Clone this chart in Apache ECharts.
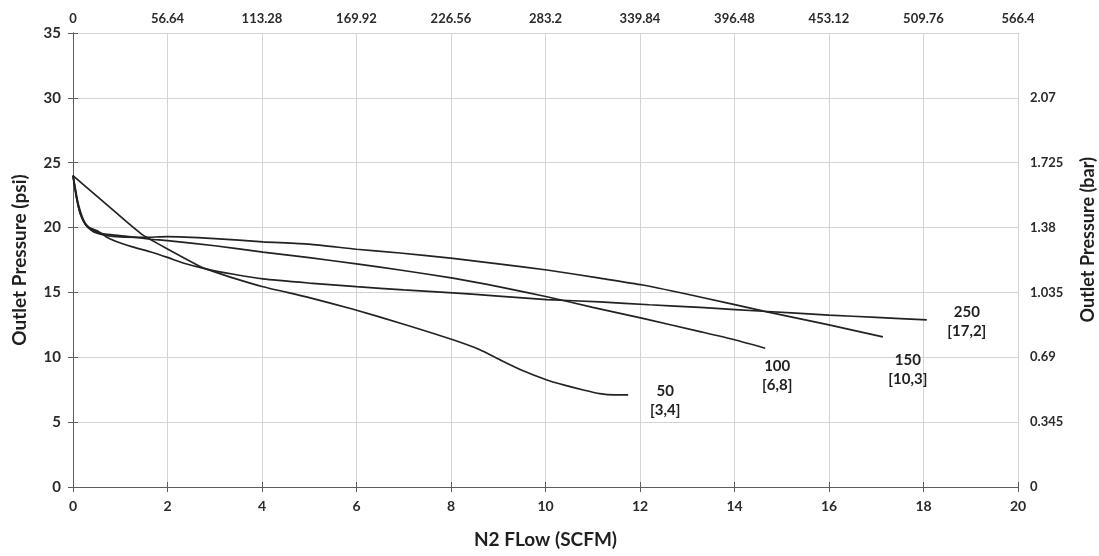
<!DOCTYPE html>
<html>
<head>
<meta charset="utf-8">
<title>N2 Flow vs Outlet Pressure</title>
<script src="https://cdn.jsdelivr.net/npm/echarts@6/dist/echarts.min.js"></script>
<style>
  html, body { margin: 0; padding: 0; background: #fff; }
  #chart { width: 1099px; height: 556px; }
</style>
</head>
<body>
<div id="chart"></div>
<script>
// Flow (SCFM) and outlet pressure (psi) for each regulator curve
const flow50 = [0, 0.35, 0.72, 1.1, 1.45, 1.63, 2.0, 2.35, 2.69, 2.83, 3.4, 4.02, 5.0, 5.93, 7.0, 8.04, 8.6, 9.04, 9.5, 10.03, 10.4, 10.8, 11.15, 11.45, 11.75];
const psi50  = [24, 22.9, 21.75, 20.55, 19.5, 19.1, 18.35, 17.65, 17.0, 16.8, 16.1, 15.44, 14.6, 13.7, 12.55, 11.35, 10.6, 9.8, 9.0, 8.25, 7.85, 7.48, 7.2, 7.1, 7.1];

const flow100 = [0, 0.05, 0.1, 0.16, 0.22, 0.3, 0.4, 0.55, 0.8, 1.2, 1.63, 2.0, 3.0, 4.02, 5.0, 6.0, 6.92, 8.04, 9.0, 10.03, 11.0, 12.06, 13.27, 14.0, 14.65];
const psi100  = [24, 23.0, 22.0, 21.2, 20.6, 20.15, 19.85, 19.6, 19.45, 19.3, 19.1, 19.0, 18.6, 18.1, 17.68, 17.2, 16.73, 16.1, 15.45, 14.67, 13.85, 13.0, 11.98, 11.35, 10.7];

const flow150 = [0, 0.04, 0.08, 0.13, 0.18, 0.25, 0.33, 0.45, 0.7, 1.0, 1.5, 2.0, 3.0, 4.02, 5.0, 6.0, 6.92, 8.04, 9.0, 10.03, 11.15, 12.06, 13.27, 14.69, 16.0, 17.14];
const psi150  = [24, 23.1, 22.2, 21.4, 20.85, 20.3, 19.95, 19.65, 19.4, 19.28, 19.25, 19.3, 19.15, 18.9, 18.72, 18.33, 18.04, 17.62, 17.2, 16.73, 16.1, 15.57, 14.65, 13.5, 12.5, 11.57];

const flow250 = [0, 0.04, 0.09, 0.15, 0.22, 0.3, 0.4, 0.54, 0.7, 0.89, 1.05, 1.24, 1.63, 2.0, 2.33, 2.83, 3.4, 4.02, 5.0, 6.0, 7.0, 8.04, 9.0, 10.03, 11.15, 12.2, 13.27, 14.6, 16.0, 17.0, 18.07];
const psi250  = [24, 23.0, 22.0, 21.1, 20.5, 20.1, 19.9, 19.7, 19.3, 18.97, 18.75, 18.53, 18.14, 17.7, 17.27, 16.8, 16.4, 16.04, 15.72, 15.44, 15.2, 14.97, 14.72, 14.45, 14.27, 14.05, 13.85, 13.55, 13.25, 13.08, 12.88];

// Curve captions: set pressure and flow coefficient pair
const curveNames = ['50', '100', '150', '250'];
const curveTags  = ['[3,4]', '[6,8]', '[10,3]', '[17,2]'];

// Secondary scales: litres per minute on top, bar on the right
const topTickLabels   = ['0', '56.64', '113.28', '169.92', '226.56', '283.2', '339.84', '396.48', '453.12', '509.76', '566.4'];
const rightTickLabels = ['0', '0.345', '0.69', '1.035', '1.38', '1.725', '2.07', ''];

const FONT = 'Lato, "Open Sans", sans-serif';
const INK = '#1f1f1f';

function pairs(xs, ys) { return xs.map((x, i) => [x, ys[i]]); }

const curves = [
  { x: flow50,  y: psi50,  off: [37, 6] },
  { x: flow100, y: psi100, off: [12, 27] },
  { x: flow150, y: psi150, off: [25, 33] },
  { x: flow250, y: psi250, off: [40, 2] }
];

const chart = echarts.init(document.getElementById('chart'), null, { renderer: 'canvas' });

const axisLine = { show: true, lineStyle: { color: '#5e5e5e', width: 1 } };
const gridLine = { show: true, lineStyle: { color: '#d4d4d4', width: 1 } };

chart.setOption({
  backgroundColor: '#ffffff',
  animation: false,
  grid: { left: 73, right: 81, top: 33, bottom: 69, containLabel: false },
  xAxis: [
    {
      type: 'value', position: 'bottom', min: 0, max: 20, interval: 2,
      name: 'N2 FLow (SCFM)', nameLocation: 'middle', nameGap: 43,
      nameTextStyle: { fontFamily: FONT, fontWeight: 'bold', fontSize: 19, color: INK },
      axisLine: axisLine,
      axisTick: { show: true, inside: false, length: 5, lineStyle: { color: '#5e5e5e' } },
      axisLabel: { margin: 12, fontFamily: FONT, fontWeight: 'bold', fontSize: 14, color: '#2a2a2a' },
      splitLine: gridLine
    },
    {
      type: 'value', position: 'top', min: 0, max: 20, interval: 2,
      axisLine: axisLine,
      axisTick: { show: true, length: 5, lineStyle: { color: '#5e5e5e' } },
      axisLabel: {
        margin: 8, fontFamily: FONT, fontWeight: 'bold', fontSize: 13, color: '#2a2a2a',
        formatter: v => topTickLabels[Math.round(v / 2)]
      },
      splitLine: { show: false }
    }
  ],
  yAxis: [
    {
      type: 'value', position: 'left', min: 0, max: 35, interval: 5,
      name: 'Outlet Pressure (psi)', nameLocation: 'middle', nameGap: 44,
      nameTextStyle: { fontFamily: FONT, fontWeight: 'bold', fontSize: 19, color: INK },
      axisLine: axisLine,
      axisTick: { show: true, length: 5, lineStyle: { color: '#5e5e5e' } },
      axisLabel: { margin: 12, fontFamily: FONT, fontWeight: 'bold', fontSize: 15, color: '#2a2a2a' },
      splitLine: gridLine
    },
    {
      type: 'value', position: 'right', min: 0, max: 35, interval: 5,
      axisLine: axisLine,
      axisTick: { show: true, length: 5, lineStyle: { color: '#5e5e5e' } },
      axisLabel: {
        margin: 12, fontFamily: FONT, fontWeight: 'bold', fontSize: 13, color: '#2a2a2a',
        formatter: v => rightTickLabels[Math.round(v / 5)]
      },
      splitLine: { show: false }
    }
  ],
  graphic: [
    {
      type: 'text', left: 1079, top: 157, rotation: Math.PI / 2,
      originX: 0, originY: 0,
      style: {
        text: 'Outlet Pressure (bar)', fontFamily: FONT, fontWeight: 'bold',
        fontSize: 18, fill: INK
      }
    }
  ],
  series: curves.map((c, i) => ({
    type: 'line',
    name: curveNames[i],
    xAxisIndex: 0, yAxisIndex: 0,
    data: pairs(c.x, c.y),
    showSymbol: false,
    symbol: 'none',
    smooth: 0.2,
    lineStyle: { color: '#222222', width: 1.7 },
    emphasis: { disabled: true },
    endLabel: {
      show: true,
      formatter: () => curveNames[i] + '\n' + curveTags[i],
      position: 'right', distance: 0,
      align: 'center', verticalAlign: 'middle',
      offset: c.off,
      fontFamily: FONT, fontWeight: 'bold', fontSize: 15, lineHeight: 19,
      color: INK
    }
  }))
});
</script>
</body>
</html>
